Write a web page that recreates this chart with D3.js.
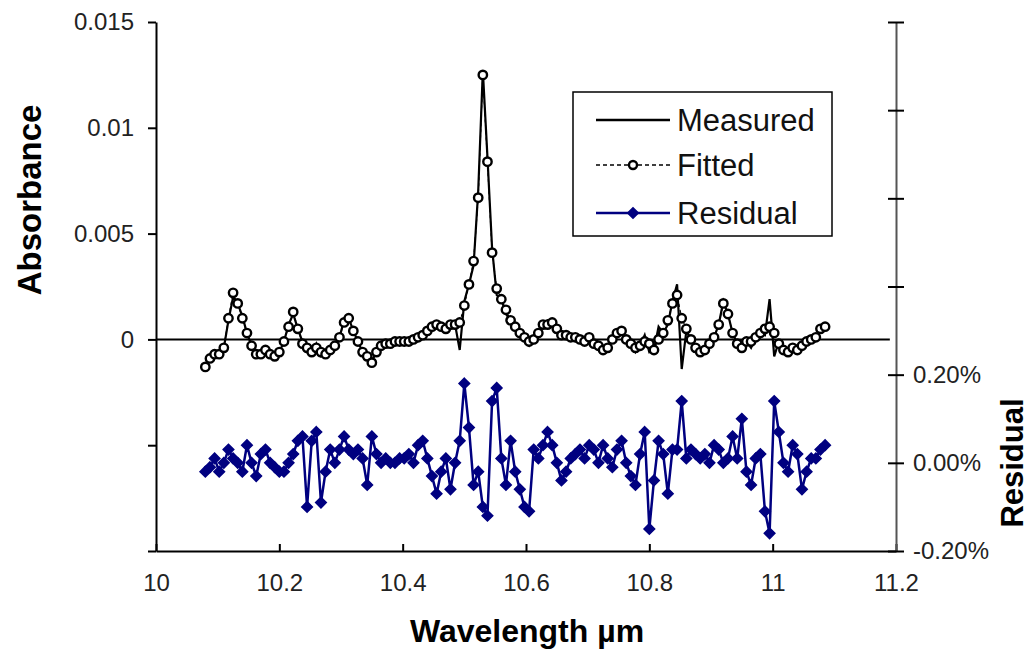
<!DOCTYPE html>
<html>
<head>
<meta charset="utf-8">
<script src="https://cdn.jsdelivr.net/npm/d3@7"></script>
<style>
  body { margin: 0; background: #fff; }
  svg text { font-family: "Liberation Sans", Arial, sans-serif; }
</style>
</head>
<body>
<div class="content"></div>
<script>
const SVG_W = 1030;
const SVG_H = 651;

// wavelength grid (µm)
const wavelength = [
  10.08,10.0875,10.095,10.1025,10.11,10.1175,10.125,10.1325,10.14,10.1475,
  10.155,10.1625,10.17,10.1775,10.185,10.1925,10.2,10.2075,10.215,10.2225,
  10.23,10.2375,10.245,10.2525,10.26,10.2675,10.275,10.2825,10.29,10.2975,
  10.305,10.3125,10.32,10.3275,10.335,10.3425,10.35,10.3575,10.365,10.3725,
  10.38,10.3875,10.395,10.4025,10.41,10.4175,10.425,10.4325,10.44,10.4475,
  10.455,10.4625,10.47,10.4775,10.485,10.4925,10.5,10.5075,10.515,10.5225,
  10.53,10.5375,10.545,10.5525,10.56,10.5675,10.575,10.5825,10.59,10.5975,
  10.605,10.6125,10.62,10.6275,10.635,10.6425,10.65,10.6575,10.665,10.6725,
  10.68,10.6875,10.695,10.7025,10.71,10.7175,10.725,10.7325,10.74,10.7475,
  10.755,10.7625,10.77,10.7775,10.785,10.7925,10.8,10.8075,10.815,10.8225,
  10.83,10.8375,10.845,10.8525,10.86,10.8675,10.875,10.8825,10.89,10.8975,
  10.905,10.9125,10.92,10.9275,10.935,10.9425,10.95,10.9575,10.965,10.9725,
  10.98,10.9875,10.995,11.0025,11.01,11.0175,11.025,11.0325,11.04,11.0475,
  11.055,11.0625,11.07,11.0775,11.085
];

const measured = [
  -0.0013,-0.0010,-0.0007,-0.0006,-0.0004,0.0009,0.0020,0.0017,0.0011,0.0003,
  -0.0003,-0.0006,-0.0007,-0.0005,-0.0008,-0.0008,-0.0006,-0.0001,0.0007,0.0012,
  0.0005,-0.0001,-0.0006,-0.0006,-0.0002,-0.0008,-0.0007,-0.0005,-0.0003,0.0001,
  0.0009,0.0010,0.0004,-0.0001,-0.0006,-0.0009,-0.0010,-0.0006,-0.0003,-0.0002,
  -0.0002,-0.0001,-0.0001,-0.0002,-0.0001,0.0000,0.0001,0.0003,0.0004,0.0005,
  0.0006,0.0006,0.0005,0.0005,0.0007,-0.0005,0.0018,0.0026,0.0035,0.0070,
  0.0127,0.0086,0.0043,0.0021,0.0019,0.0012,0.0009,0.0006,0.0003,-0.0001,
  -0.0003,0.0000,0.0003,0.0007,0.0009,0.0008,0.0005,0.0002,0.0002,0.0001,
  0.0001,0.0000,-0.0001,0.0001,-0.0002,-0.0003,-0.0005,-0.0004,0.0000,0.0003,
  0.0004,0.0000,-0.0002,-0.0006,-0.0003,0.0002,-0.0006,-0.0005,0.0006,0.0003,
  0.0007,0.0018,0.0026,-0.0014,0.0004,0.0000,-0.0004,-0.0006,-0.0005,-0.0002,
  0.0001,0.0007,0.0018,0.0012,0.0003,-0.0002,-0.0001,-0.0001,-0.0004,0.0001,
  0.0003,0.0002,0.0019,-0.0008,-0.0001,-0.0005,-0.0006,-0.0004,-0.0005,-0.0005,
  -0.0001,0.0000,0.0001,0.0005,0.0006
];

const fitted = [
  -0.0013,-0.0009,-0.0007,-0.0007,-0.0004,0.0010,0.0022,0.0017,0.0010,0.0003,
  -0.0003,-0.0007,-0.0007,-0.0005,-0.0007,-0.0008,-0.0006,-0.0001,0.0006,0.0013,
  0.0005,-0.0002,-0.0004,-0.0006,-0.0004,-0.0006,-0.0007,-0.0005,-0.0003,0.0001,
  0.0008,0.0010,0.0004,-0.0001,-0.0006,-0.0008,-0.0011,-0.0006,-0.0003,-0.0002,
  -0.0002,-0.0001,-0.0001,-0.0001,-0.0001,0.0000,0.0001,0.0002,0.0004,0.0006,
  0.0007,0.0006,0.0005,0.0007,0.0007,0.0008,0.0016,0.0026,0.0037,0.0067,
  0.0125,0.0084,0.0041,0.0024,0.0019,0.0014,0.0009,0.0006,0.0003,0.0001,
  -0.0001,0.0000,0.0003,0.0007,0.0007,0.0008,0.0005,0.0002,0.0002,0.0001,
  0.0001,0.0000,-0.0001,0.0001,-0.0002,-0.0003,-0.0005,-0.0004,0.0000,0.0003,
  0.0004,0.0000,-0.0002,-0.0004,-0.0003,-0.0001,-0.0002,-0.0005,0.0000,0.0003,
  0.0009,0.0017,0.0021,0.0010,0.0005,0.0000,-0.0004,-0.0006,-0.0005,-0.0002,
  0.0001,0.0007,0.0017,0.0012,0.0003,-0.0002,-0.0004,-0.0001,-0.0001,0.0001,
  0.0003,0.0005,0.0006,0.0003,-0.0002,-0.0005,-0.0006,-0.0004,-0.0005,-0.0003,
  -0.0001,0.0000,0.0001,0.0005,0.0006
];

// residual, as a fraction (plotted on the right % axis)
const residual = [
  -0.0002,-0.0001,0.0001,-0.0002,0.0000,0.0003,0.0001,0.0000,-0.0002,0.0004,
  0.0000,-0.0003,0.0002,0.0003,0.0000,-0.0001,-0.0002,-0.0002,0.0000,0.0002,
  0.0005,0.0006,-0.0010,0.0005,0.0007,-0.0009,-0.0002,0.0003,0.0000,0.0003,
  0.0006,0.0003,0.0002,0.0003,0.0001,-0.0005,0.0006,0.0002,0.0000,0.0001,
  0.0000,0.0000,0.0001,0.0001,0.0002,0.0000,0.0004,0.0005,0.0001,-0.0003,
  -0.0007,-0.0002,0.0001,-0.0006,0.0000,0.0005,0.0018,0.0008,-0.0005,-0.0002,
  -0.0010,-0.0012,0.0014,0.0017,0.0001,-0.0005,0.0005,-0.0002,-0.0006,-0.0010,
  -0.0011,0.0003,0.0001,0.0004,0.0007,0.0004,0.0000,-0.0004,-0.0002,0.0001,
  0.0002,0.0003,0.0001,0.0004,0.0003,0.0000,0.0004,0.0001,-0.0001,0.0003,
  0.0005,0.0000,-0.0003,-0.0005,0.0002,0.0007,-0.0015,-0.0004,0.0005,0.0002,
  -0.0007,0.0003,0.0003,0.0014,0.0001,0.0003,0.0002,0.0001,0.0002,0.0000,
  0.0004,0.0003,0.0000,0.0001,0.0006,0.0001,0.0010,-0.0002,-0.0005,0.0001,
  0.0002,-0.0011,-0.0016,0.0014,0.0007,0.0000,-0.0002,0.0004,0.0002,-0.0006,
  -0.0002,0.0001,0.0001,0.0003,0.0004
];

// zero reference line (wavelength extent)
const zeroLineX = [10, 11.19];

const xTicks = [10, 10.2, 10.4, 10.6, 10.8, 11, 11.2];
const leftTicks = [-0.01, -0.005, 0, 0.005, 0.01, 0.015];
const leftLabels = {"0.015": "0.015", "0.01": "0.01", "0.005": "0.005", "0": "0"};
const rightTicks = [-0.002, 0, 0.002, 0.004, 0.006, 0.008, 0.01];
const rightLabels = {"-0.002": "-0.20%", "0": "0.00%", "0.002": "0.20%"};
const legendItems = ["Measured", "Fitted", "Residual"];

const svg = d3.select(".content").append("svg").attr("width", SVG_W).attr("height", SVG_H);

const x = d3.scaleLinear().domain([10, 11.2]).range([156, 896]);
const yL = d3.scaleLinear().domain([-0.01, 0.015]).range([551, 22]);
const yR = d3.scaleLinear().domain([-0.002, 0.01]).range([551, 22]);

// axes
let gx = svg.append("g").attr("transform", "translate(0,551)")
  .call(d3.axisBottom(x).tickValues(xTicks).tickSizeInner(-7).tickSizeOuter(0).tickPadding(23)
    .tickFormat(d => String(+d.toFixed(1))));
let gl = svg.append("g").attr("transform", "translate(156,0)")
  .call(d3.axisLeft(yL).tickValues(leftTicks).tickSizeInner(8).tickSizeOuter(0).tickPadding(14)
    .tickFormat(d => leftLabels[String(+d.toFixed(3))] || ""));
let gr = svg.append("g").attr("transform", "translate(896,0)")
  .call(d3.axisRight(yR).tickValues(rightTicks).tickSizeInner(8).tickSizeOuter(0).tickPadding(9)
    .tickFormat(d => rightLabels[String(+d.toFixed(3))] || ""));
gr.selectAll(".tick line").attr("x1", -8);

[gx, gl, gr].forEach(g => {
  g.select(".domain").attr("stroke", "#000").attr("stroke-width", 2);
  g.selectAll(".tick line").attr("stroke", "#000").attr("stroke-width", 2);
  g.selectAll(".tick text").attr("fill", "#222").style("font-size", "24px");
});
gr.select(".domain").attr("stroke", "#555");

// axis titles
svg.append("text").attr("transform", "translate(41,200) rotate(-90)")
  .attr("text-anchor", "middle").style("font-size", "33px").style("font-weight", "bold").text("Absorbance");
svg.append("text").attr("x", 527).attr("y", 642)
  .attr("text-anchor", "middle").style("font-size", "32px").style("font-weight", "bold").text("Wavelength µm");
svg.append("text").attr("transform", "translate(1023,463) rotate(-90)")
  .attr("text-anchor", "middle").style("font-size", "31px").style("font-weight", "bold").text("Residual");

// zero line
svg.append("line")
  .attr("x1", x(zeroLineX[0])).attr("x2", x(zeroLineX[1]))
  .attr("y1", yL(0)).attr("y2", yL(0))
  .attr("stroke", "#000").attr("stroke-width", 2);

const plot = svg.append("g");

// measured
plot.append("path").datum(measured)
  .attr("fill", "none").attr("stroke", "#000").attr("stroke-width", 2.2)
  .attr("d", d3.line().x((d, i) => x(wavelength[i])).y(d => yL(d)));

// fitted
plot.append("path").datum(fitted)
  .attr("fill", "none").attr("stroke", "#000").attr("stroke-width", 1.2).attr("stroke-dasharray", "3,3")
  .attr("d", d3.line().x((d, i) => x(wavelength[i])).y(d => yL(d)));
plot.selectAll(".fit-pt").data(fitted).join("circle").classed("fit-pt", true)
  .attr("cx", (d, i) => x(wavelength[i])).attr("cy", d => yL(d)).attr("r", 4.2)
  .attr("fill", "#fff").attr("stroke", "#000").attr("stroke-width", 2.4);

// residual
const NAVY = "#000080";
plot.append("path").datum(residual)
  .attr("fill", "none").attr("stroke", NAVY).attr("stroke-width", 2.5)
  .attr("d", d3.line().x((d, i) => x(wavelength[i])).y(d => yR(d)));
const diamond = d3.symbol().type(d3.symbolDiamond2).size(72);
plot.selectAll(".res-pt").data(residual).join("path").classed("res-pt", true)
  .attr("transform", (d, i) => "translate(" + x(wavelength[i]) + "," + yR(d) + ")")
  .attr("d", diamond).attr("fill", NAVY).attr("stroke", NAVY).attr("stroke-width", 1.5);

// legend
const lg = svg.append("g").attr("transform", "translate(573,92)");
lg.append("rect").attr("width", 259).attr("height", 144)
  .attr("fill", "#fff").attr("stroke", "#000").attr("stroke-width", 1.5);
const rowY = [28, 73, 121];
legendItems.forEach((name, i) => {
  const row = lg.append("g").attr("transform", "translate(0," + rowY[i] + ")");
  const line = row.append("line").attr("x1", 23).attr("x2", 97).attr("y1", 0).attr("y2", 0);
  if (i === 0) line.attr("stroke", "#000").attr("stroke-width", 2.5);
  if (i === 1) {
    line.attr("stroke", "#000").attr("stroke-width", 1.5).attr("stroke-dasharray", "4,3");
    row.append("circle").attr("cx", 60).attr("r", 4).attr("fill", "#fff").attr("stroke", "#000").attr("stroke-width", 2.4);
  }
  if (i === 2) {
    line.attr("stroke", NAVY).attr("stroke-width", 2.5);
    row.append("path").attr("transform", "translate(60,0)").attr("d", diamond).attr("fill", NAVY).attr("stroke", NAVY).attr("stroke-width", 1.5);
  }
  row.append("text").attr("x", 104).attr("y", 11).style("font-size", "31px").attr("fill", "#111").text(name);
});
</script>
</body>
</html>
